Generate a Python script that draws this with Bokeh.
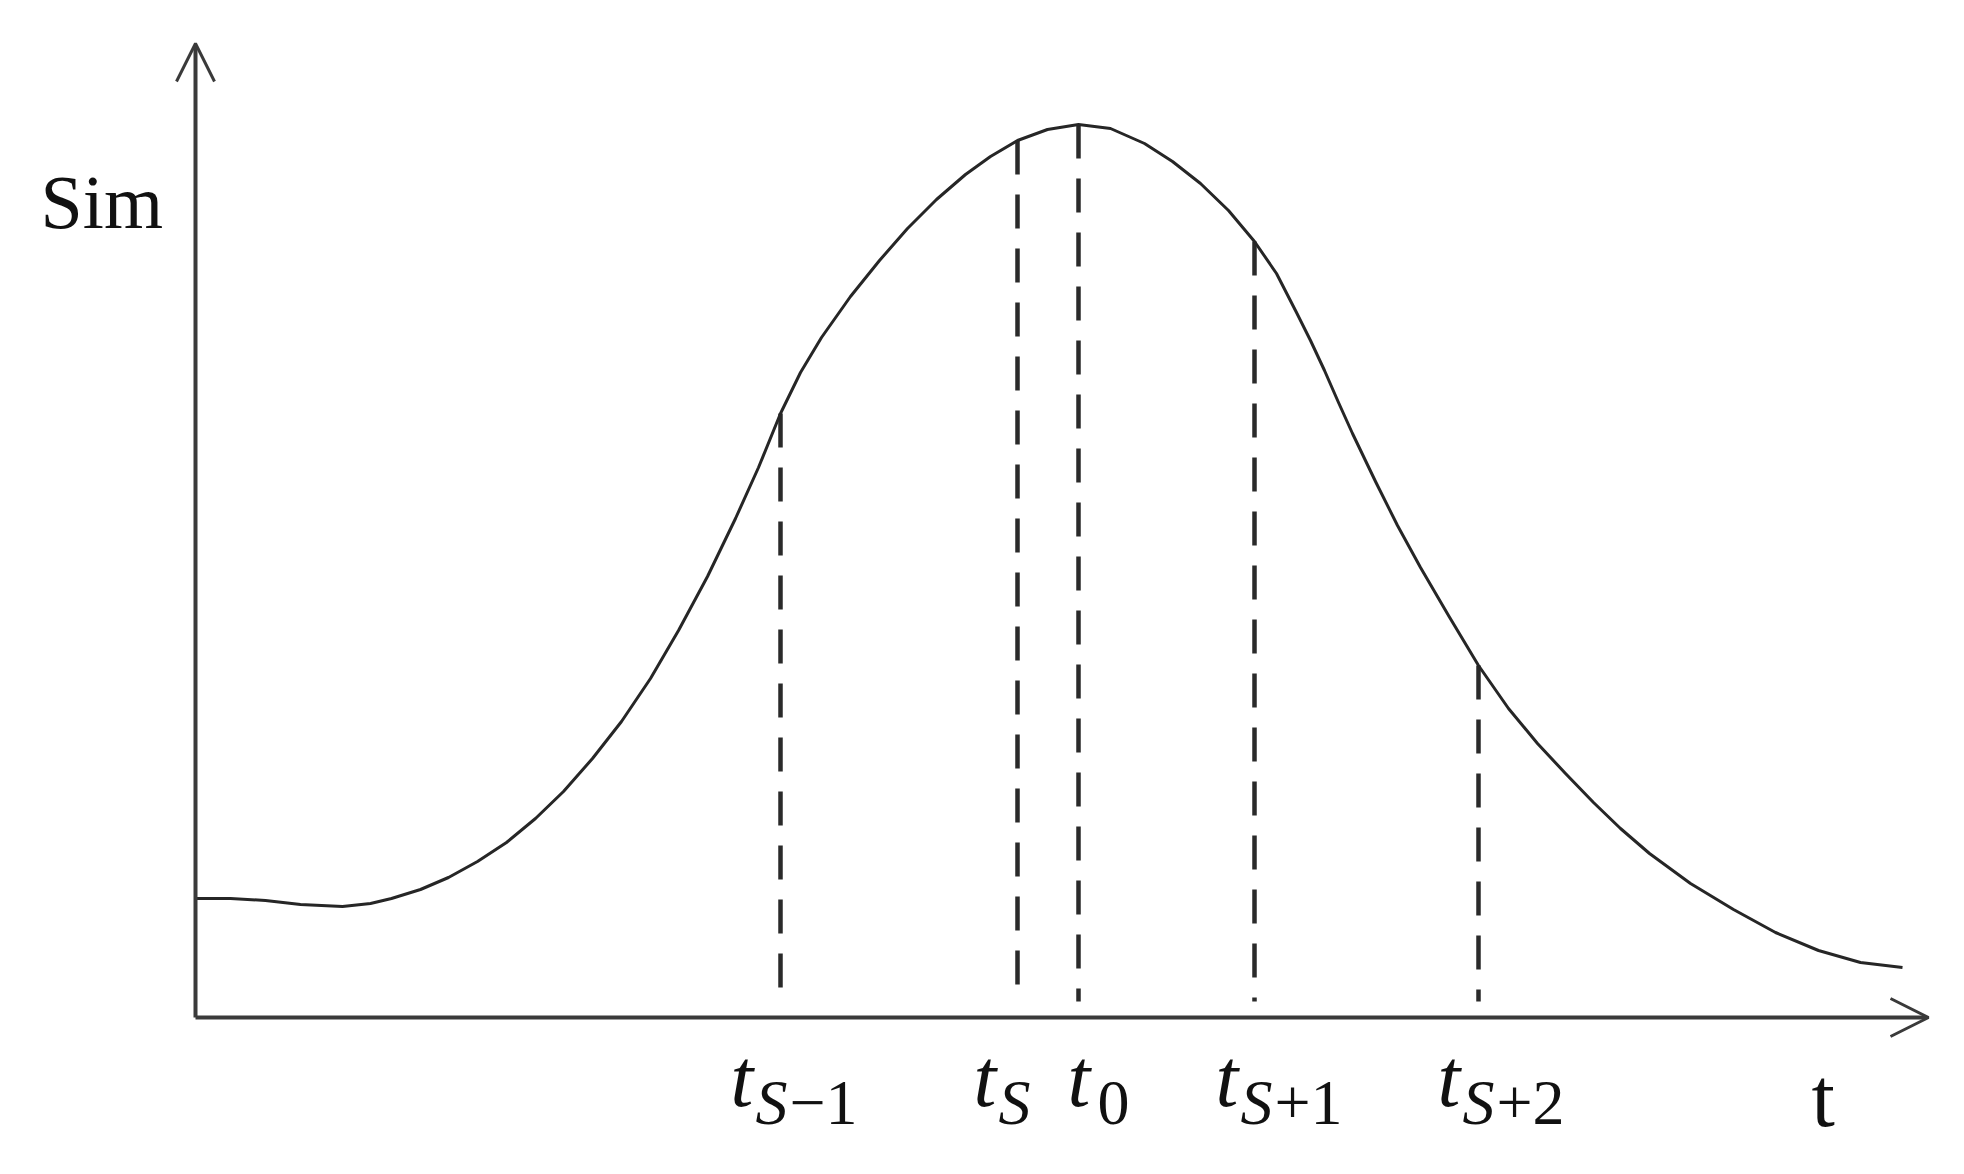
from bokeh.plotting import figure
from bokeh.models import Arrow, OpenHead, Range1d
from bokeh.core.properties import value
from bokeh.embed import file_html
from bokeh.resources import INLINE

# ---------------- data ----------------
t_vals = [0.0, 3.5, 7.0, 10.5, 14.7, 17.5, 19.6, 22.5, 25.3, 28.2, 31.1, 34.0,
          36.8, 39.7, 42.6, 45.5, 48.3, 51.2, 54.0, 56.3, 58.5, 60.5, 62.6,
          65.5, 68.4, 71.2, 74.1, 77.0, 79.5, 82.2, 85.2, 88.3, 91.5, 94.9,
          97.7, 100.5, 103.3, 105.9, 108.1, 110.1, 111.5, 112.9, 114.3, 115.7,
          118.0, 120.2, 122.5, 125.3, 128.3, 131.3, 134.2, 137.0, 139.8, 142.5,
          145.4, 149.5, 153.8, 158.0, 162.3, 166.5, 170.7]
sim_vals = [11.9, 11.9, 11.7, 11.3, 11.1, 11.4, 11.9, 12.8, 14.0, 15.6, 17.5, 19.9,
            22.6, 25.9, 29.6, 33.9, 38.7, 44.1, 49.9, 55.0, 60.4, 64.5, 68.0,
            72.1, 75.7, 78.9, 81.8, 84.3, 86.1, 87.7, 88.8, 89.3, 88.9, 87.4,
            85.6, 83.4, 80.7, 77.6, 74.4, 70.5, 67.7, 64.7, 61.5, 58.4,
            53.6, 49.2, 45.0, 40.2, 35.2, 30.9, 27.4, 24.4, 21.5, 18.9,
            16.4, 13.4, 10.8, 8.5, 6.7, 5.5, 5.0]

tick_t = [58.5, 82.2, 88.3, 105.9, 128.3]         # t_{S-1}, t_S, t_0, t_{S+1}, t_{S+2}
tick_sim = [60.4, 87.7, 89.3, 77.6, 35.2]         # curve value at each tick
tick_main = ["t", "t", "t", "t", "t"]
tick_sub_italic = ["S", "S", "", "S", "S"]
tick_sub_upright = ["\u22121", "", "0", "+1", "+2"]

y_label = "Sim"
x_label = "t"

# ---------------- layout (reference pixel geometry) ----------------
PX0, PY0 = 195.0, 1017.0      # origin pixel in reference
SX, SY = 10.0, 10.0           # pixels per data unit
W, H = 1956, 1166
OFF = 0


def fx(px):
    return (px - PX0) / SX


def fy(py):
    return (PY0 - py) / SY


p = figure(width=W, height=H, output_backend="svg", toolbar_location=None,
           x_axis_type=None, y_axis_type=None,
           x_range=Range1d(fx(OFF), fx(OFF + W)), y_range=Range1d(fy(OFF + H), fy(OFF)),
           min_border=0, outline_line_color=None)
p.xgrid.visible = False
p.ygrid.visible = False
p.background_fill_color = "white"
p.border_fill_color = "white"

AX_COL = "#3a3a3a"

# dashed drop lines
p.segment(x0=tick_t, y0=tick_sim, x1=tick_t, y1=[1.6] * len(tick_t),
          line_color="#2a2a2a", line_width=4.5, line_dash="34 20")

# curve
p.line(t_vals, sim_vals, line_color="#262626", line_width=3, line_join="round")

# axes with open arrow heads
p.add_layout(Arrow(end=OpenHead(size=38, line_width=3, line_color=AX_COL),
                   x_start=0, y_start=0, x_end=fx(1928), y_end=0,
                   line_width=4, line_color=AX_COL))
p.add_layout(Arrow(end=OpenHead(size=38, line_width=3, line_color=AX_COL),
                   x_start=0, y_start=0, x_end=0, y_end=fy(43),
                   line_width=4, line_color=AX_COL))

# tick labels t_k
t_dx = [-50, -44, -11, -39, -41]
main_x, sub_i_x, sub_u_x = [], [], []
for k, tt in enumerate(tick_t):
    px = PX0 + tt * SX + t_dx[k]
    main_x.append(fx(px))
    sub_i_x.append(fx(px + 25))
    sub_u_x.append(fx(px + 25 + (34 if tick_sub_italic[k] else 5)))

MATH_FONT = value("Liberation Serif")
p.text(x=main_x, y=[fy(1107 - 29)] * 5, text=tick_main, text_font=MATH_FONT,
       text_font_style="italic", text_font_size="82px", text_color="#111111",
       text_align="left", text_baseline="alphabetic")
p.text(x=sub_i_x, y=[fy(1124 - 22)] * 5, text=tick_sub_italic, text_font=MATH_FONT,
       text_font_style="italic", text_font_size="64px", text_color="#111111",
       text_align="left", text_baseline="alphabetic")
p.text(x=sub_u_x, y=[fy(1124 - 22)] * 5, text=tick_sub_upright, text_font=MATH_FONT,
       text_font_style="normal", text_font_size="64px", text_color="#111111",
       text_align="left", text_baseline="alphabetic")

# axis titles
p.text(x=[fx(40)], y=[fy(228 - 27)], text=[y_label], text_font=value("Liberation Serif"),
       text_font_size="76px", text_color="#111111",
       text_align="left", text_baseline="alphabetic")
p.text(x=[fx(1811)], y=[fy(1126 - 29)], text=[x_label], text_font=value("Liberation Serif"),
       text_font_size="84px", text_color="#111111",
       text_align="left", text_baseline="alphabetic")

open("out.html", "w").write(file_html(p, INLINE))
